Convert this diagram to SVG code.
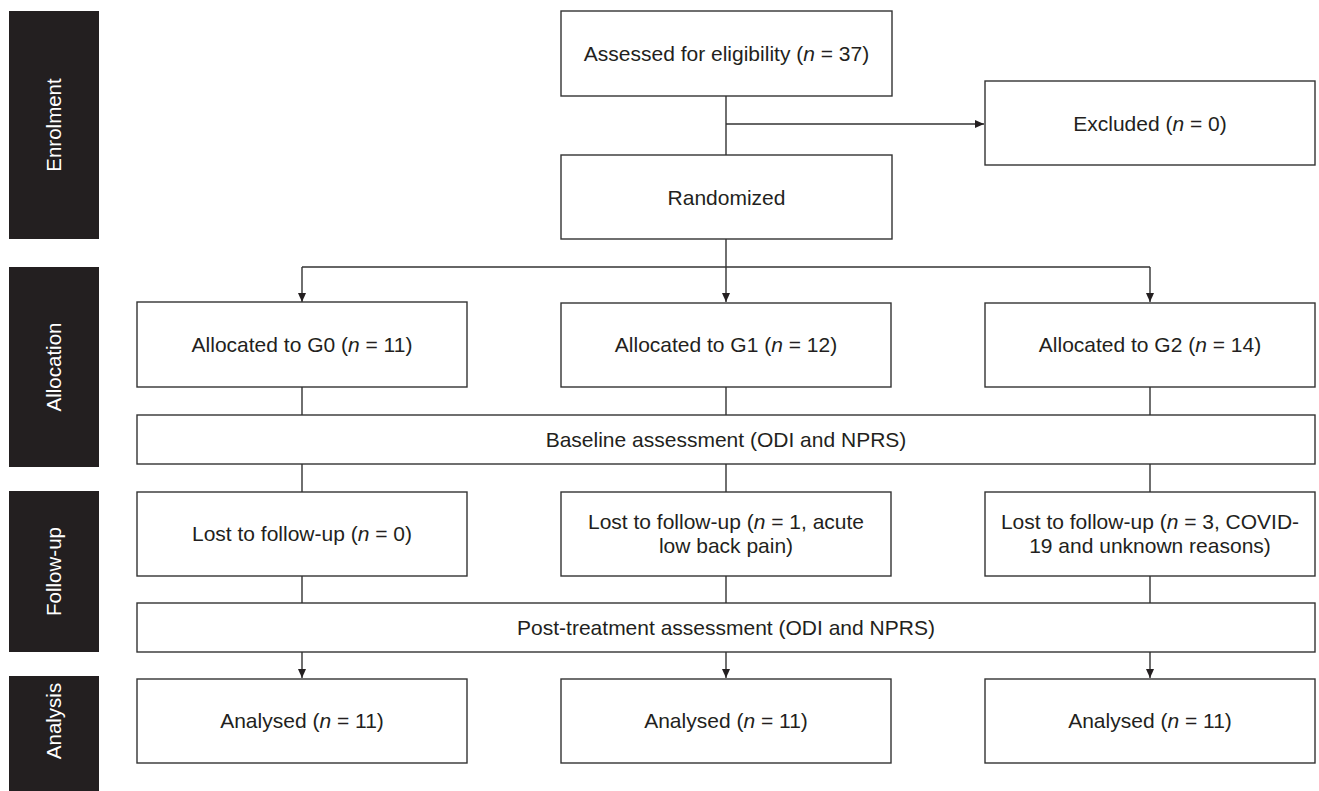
<svg xmlns="http://www.w3.org/2000/svg" width="1319" height="791" viewBox="0 0 1319 791">
<style>
.bar{fill:#231f20}
.bt{fill:#ffffff;font-family:"Liberation Sans",Arial,sans-serif;font-size:20.5px;text-anchor:middle}
.box{fill:#ffffff;stroke:#333333;stroke-width:1.4}
.t{fill:#231f20;font-family:"Liberation Sans",Arial,sans-serif;font-size:21px;text-anchor:middle}
.c{fill:none;stroke:#333333;stroke-width:1.4}
</style>
<defs>
<marker id="ah" markerWidth="10" markerHeight="10" refX="9" refY="4" orient="auto" markerUnits="userSpaceOnUse">
<path d="M0,0 L9,4 L0,8 Z" fill="#231f20"/>
</marker>
</defs>
<rect width="1319" height="791" fill="#ffffff"/>

<g id="stage-enrolment"><rect class="bar" x="9" y="11" width="90" height="228"/><text class="bt" transform="translate(61,125) rotate(-90)">Enrolment</text></g>
<g id="stage-allocation"><rect class="bar" x="9" y="267" width="90" height="200"/><text class="bt" transform="translate(61,367) rotate(-90)">Allocation</text></g>
<g id="stage-followup"><rect class="bar" x="9" y="491" width="90" height="161"/><text class="bt" transform="translate(61,571.5) rotate(-90)">Follow-up</text></g>
<g id="stage-analysis"><rect class="bar" x="9" y="676" width="90" height="130"/><text class="bt" transform="translate(61,721) rotate(-90)">Analysis</text></g>

<g id="connectors">
<line class="c" x1="726" y1="96" x2="726" y2="155"/>
<line class="c" x1="726" y1="124" x2="984" y2="124" marker-end="url(#ah)"/>
<line class="c" x1="726" y1="239" x2="726" y2="267"/>
<line class="c" x1="302" y1="267" x2="1150" y2="267"/>
<line class="c" x1="302" y1="267" x2="302" y2="302" marker-end="url(#ah)"/>
<line class="c" x1="726" y1="267" x2="726" y2="302" marker-end="url(#ah)"/>
<line class="c" x1="1150" y1="267" x2="1150" y2="302" marker-end="url(#ah)"/>
<line class="c" x1="302" y1="387" x2="302" y2="415"/>
<line class="c" x1="726" y1="387" x2="726" y2="415"/>
<line class="c" x1="1150" y1="387" x2="1150" y2="415"/>
<line class="c" x1="302" y1="464" x2="302" y2="492"/>
<line class="c" x1="726" y1="464" x2="726" y2="492"/>
<line class="c" x1="1150" y1="464" x2="1150" y2="492"/>
<line class="c" x1="302" y1="576" x2="302" y2="603"/>
<line class="c" x1="726" y1="576" x2="726" y2="603"/>
<line class="c" x1="1150" y1="576" x2="1150" y2="603"/>
<line class="c" x1="302" y1="652" x2="302" y2="678" marker-end="url(#ah)"/>
<line class="c" x1="726" y1="652" x2="726" y2="678" marker-end="url(#ah)"/>
<line class="c" x1="1150" y1="652" x2="1150" y2="678" marker-end="url(#ah)"/>
</g>

<g id="assessed"><rect class="box" x="561" y="11" width="331" height="85"/><text class="t" x="726.5" y="61">Assessed for eligibility (<tspan font-style="italic">n</tspan> = 37)</text></g>
<g id="excluded"><rect class="box" x="985" y="81" width="330" height="84"/><text class="t" x="1150" y="130.5">Excluded (<tspan font-style="italic">n</tspan> = 0)</text></g>
<g id="randomized"><rect class="box" x="561" y="155" width="331" height="84"/><text class="t" x="726.5" y="204.5">Randomized</text></g>

<g id="alloc-g0"><rect class="box" x="137" y="302" width="330" height="85"/><text class="t" x="302" y="352">Allocated to G0 (<tspan font-style="italic">n</tspan> = 11)</text></g>
<g id="alloc-g1"><rect class="box" x="561" y="303" width="330" height="84"/><text class="t" x="726" y="352">Allocated to G1 (<tspan font-style="italic">n</tspan> = 12)</text></g>
<g id="alloc-g2"><rect class="box" x="985" y="303" width="330" height="84"/><text class="t" x="1150" y="352">Allocated to G2 (<tspan font-style="italic">n</tspan> = 14)</text></g>

<g id="baseline"><rect class="box" x="137" y="415" width="1178" height="49"/><text class="t" x="726" y="447">Baseline assessment (ODI and NPRS)</text></g>

<g id="lost-g0"><rect class="box" x="137" y="492" width="330" height="84"/><text class="t" x="302" y="541">Lost to follow-up (<tspan font-style="italic">n</tspan> = 0)</text></g>
<g id="lost-g1"><rect class="box" x="561" y="492" width="330" height="84"/><text class="t" x="726" y="529">Lost to follow-up (<tspan font-style="italic">n</tspan> = 1, acute</text><text class="t" x="726" y="553">low back pain)</text></g>
<g id="lost-g2"><rect class="box" x="985" y="492" width="330" height="84"/><text class="t" x="1150" y="529">Lost to follow-up (<tspan font-style="italic">n</tspan> = 3, COVID-</text><text class="t" x="1150" y="553">19 and unknown reasons)</text></g>

<g id="post"><rect class="box" x="137" y="603" width="1178" height="49"/><text class="t" x="726" y="635">Post-treatment assessment (ODI and NPRS)</text></g>

<g id="analysed-g0"><rect class="box" x="137" y="679" width="330" height="84"/><text class="t" x="302" y="728">Analysed (<tspan font-style="italic">n</tspan> = 11)</text></g>
<g id="analysed-g1"><rect class="box" x="561" y="679" width="330" height="84"/><text class="t" x="726" y="728">Analysed (<tspan font-style="italic">n</tspan> = 11)</text></g>
<g id="analysed-g2"><rect class="box" x="985" y="679" width="330" height="84"/><text class="t" x="1150" y="728">Analysed (<tspan font-style="italic">n</tspan> = 11)</text></g>
</svg>
